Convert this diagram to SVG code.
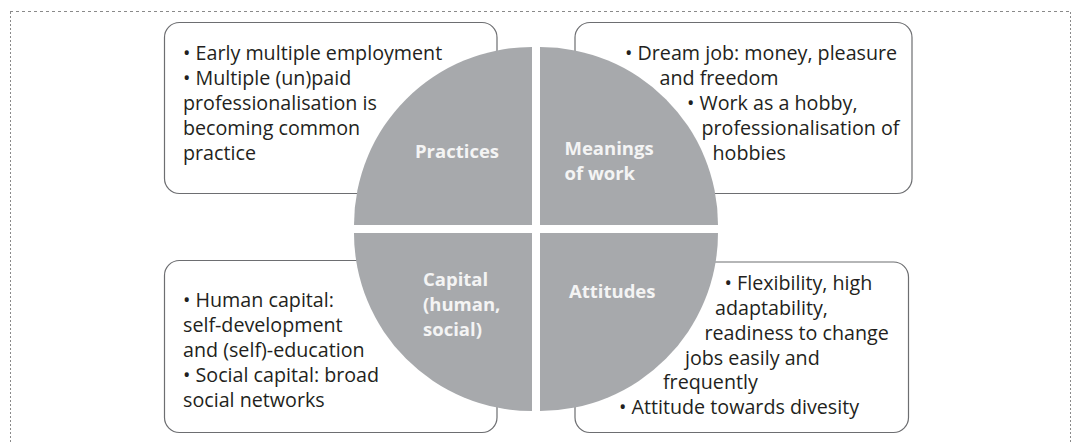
<svg xmlns="http://www.w3.org/2000/svg" width="1075" height="444" viewBox="0 0 1075 444">
<style>
.frame{fill:none;stroke:#8a8a8a;stroke-width:1}
.box{fill:#fff;stroke:#6d6e71;stroke-width:1.2}
.sector{fill:#a7a9ac}
.txt{font-family:"Open Sans","Noto Sans",sans-serif;font-size:19.7px;fill:#231f20}
.lbl{font-family:"Open Sans","Noto Sans",sans-serif;font-size:18.5px;font-weight:bold;fill:#f4f4f4}
</style>
<rect width="1075" height="444" fill="#fff"/>
<g id="frame">
<line class="frame" x1="10" y1="11.5" x2="1071" y2="11.5" stroke-dasharray="3 3"/>
<line class="frame" x1="10.5" y1="12" x2="10.5" y2="444" stroke-dasharray="2 2"/>
<line class="frame" x1="1070.5" y1="12" x2="1070.5" y2="444" stroke-dasharray="2 2"/>
</g>
<g id="connectors"></g>
<g id="practices">
<rect class="box" x="164.5" y="22.5" width="332.5" height="171" rx="15"/>
<path class="sector" d="M532,225 L354,225 A178,178 0 0 1 532,47 Z"/>
<text class="txt" x="183" y="60">• Early multiple employment</text>
<text class="txt" x="183" y="85">• Multiple (un)paid</text>
<text class="txt" x="183" y="110">professionalisation is</text>
<text class="txt" x="183" y="135">becoming common</text>
<text class="txt" x="183" y="160">practice</text>
<text class="lbl" x="415" y="158">Practices</text>
</g>
<g id="meanings">
<rect class="box" x="575" y="22.5" width="337" height="171" rx="15"/>
<path class="sector" d="M540,225 L540,47 A178,178 0 0 1 718,225 Z"/>
<text class="txt" x="625" y="60">• Dream job: money, pleasure</text>
<text class="txt" x="659.5" y="85">and freedom</text>
<text class="txt" x="687" y="110">• Work as a hobby,</text>
<text class="txt" x="701.5" y="135">professionalisation of</text>
<text class="txt" x="712.5" y="160">hobbies</text>
<text class="lbl" x="564.5" y="155">Meanings</text>
<text class="lbl" x="564.5" y="180">of work</text>
</g>
<g id="capital">
<rect class="box" x="164.5" y="260.5" width="332.5" height="172" rx="15"/>
<path class="sector" d="M532,233 L532,411 A178,178 0 0 1 354,233 Z"/>
<text class="txt" x="183" y="307">• Human capital:</text>
<text class="txt" x="183" y="332">self-development</text>
<text class="txt" x="183" y="357">and (self)-education</text>
<text class="txt" x="183" y="382">• Social capital: broad</text>
<text class="txt" x="183" y="407">social networks</text>
<text class="lbl" x="423" y="286">Capital</text>
<text class="lbl" x="423" y="311">(human,</text>
<text class="lbl" x="423" y="336">social)</text>
</g>
<g id="attitudes">
<rect class="box" x="575" y="262" width="333.5" height="170.5" rx="15"/>
<path class="sector" d="M540,233 L718,233 A178,178 0 0 1 540,411 Z"/>
<text class="txt" x="724.5" y="290">• Flexibility, high</text>
<text class="txt" x="715" y="315">adaptability,</text>
<text class="txt" x="704.5" y="340">readiness to change</text>
<text class="txt" x="685" y="365">jobs easily and</text>
<text class="txt" x="663" y="389">frequently</text>
<text class="txt" x="619" y="414">• Attitude towards divesity</text>
<text class="lbl" x="569" y="298">Attitudes</text>
</g>
</svg>
